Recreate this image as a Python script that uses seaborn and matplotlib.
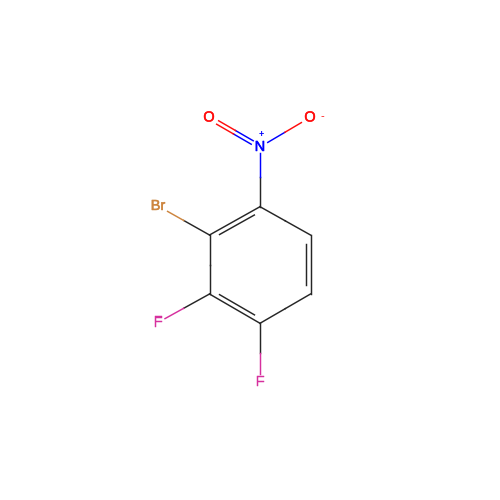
import numpy as np
import matplotlib
matplotlib.use('Agg')
import matplotlib.pyplot as plt
import matplotlib.patheffects as pe
import seaborn as sns

# atoms of the molecule
atom_names = ['C1', 'C2', 'C3', 'C4', 'C5', 'C6', 'N', 'O1', 'O2', 'Br', 'F1', 'F2']
atom_labels = ['', '', '', '', '', '', 'N', 'O', 'O', 'Br', 'F', 'F']
atom_x = [260, 310.5, 310.5, 260, 209.5, 209.5, 260, 209, 310, 158, 158, 260]
atom_y = [206.7, 235, 294, 323.3, 294, 235, 147, 117.5, 117.5, 206, 322.5, 382]

# bonds : first atom, second atom, order
bond_a = ['C1', 'C2', 'C3', 'C4', 'C5', 'C6', 'C1', 'N', 'N', 'C6', 'C5', 'C4']
bond_b = ['C2', 'C3', 'C4', 'C5', 'C6', 'C1', 'N', 'O1', 'O2', 'Br', 'F1', 'F2']
bond_order = [1, 2, 1, 2, 1, 2, 1, 2, 1, 1, 1, 1]

colors = {'C': '#262626', 'N': '#0000FF', 'O': '#FF0D0D', 'B': '#CD853F', 'F': '#D6309E'}
gaps = {'C': 0, 'N': 6, 'O': 10, 'B': 11, 'F': 8}

pos = {n: np.array([x, y], dtype=float) for n, x, y in zip(atom_names, atom_x, atom_y)}
center = np.mean([pos[n] for n in atom_names[:6]], axis=0)


def draw_line(ax, p, q, color):
    sns.lineplot(x=[p[0], q[0]], y=[p[1], q[1]], color=color, linewidth=1.05,
                 estimator=None, sort=False, ax=ax)


fig = plt.figure(figsize=(5, 5), dpi=100)
ax = fig.add_axes([0, 0, 1, 1])

for a, b, order in zip(bond_a, bond_b, bond_order):
    p, q = pos[a], pos[b]
    u = (q - p) / np.linalg.norm(q - p)
    n = np.array([-u[1], u[0]])
    mid = (p + q) / 2
    gap_a = 9 if a == 'N' else gaps[a[0]]
    start, end = p + u * gap_a, q - u * gaps[b[0]]
    if order == 1:
        # each half of the bond takes the colour of its atom
        draw_line(ax, start, mid, colors[a[0]])
        draw_line(ax, mid, end, colors[b[0]])
    elif a[0] == 'C':
        # ring double bond : outer line and a shorter one inside the ring
        if np.dot(center - mid, n) < 0:
            n = -n
        draw_line(ax, p, q, colors['C'])
        draw_line(ax, p + u * 9 + n * 4.5, q - u * 9 + n * 4.5, colors['C'])
    else:
        # N=O, two parallel lines
        for side in (-2, 2):
            draw_line(ax, start + n * side, mid + n * side, colors[a[0]])
            draw_line(ax, mid + n * side, end + n * side, colors[b[0]])

for name, label in zip(atom_names, atom_labels):
    if label:
        color = colors[name[0]]
        ax.text(pos[name][0], pos[name][1], label, color=color, fontsize=10.5,
                family='Liberation Sans', ha='center', va='center',
                path_effects=[pe.withStroke(linewidth=0.35, foreground=color)])

# charges
ax.text(pos['N'][0] + 1, pos['N'][1] - 12, '+', color=colors['N'], fontsize=6.5,
        family='Liberation Sans', weight='bold', ha='center', va='center')
ax.text(pos['O2'][0] + 12, pos['O2'][1] - 1, '-', color=colors['O'], fontsize=8,
        family='Liberation Sans', ha='center', va='center')

ax.set_xlim(0, 500)
ax.set_ylim(500, 0)
ax.axis('off')
fig.savefig('out.png', dpi=100, facecolor='white')
